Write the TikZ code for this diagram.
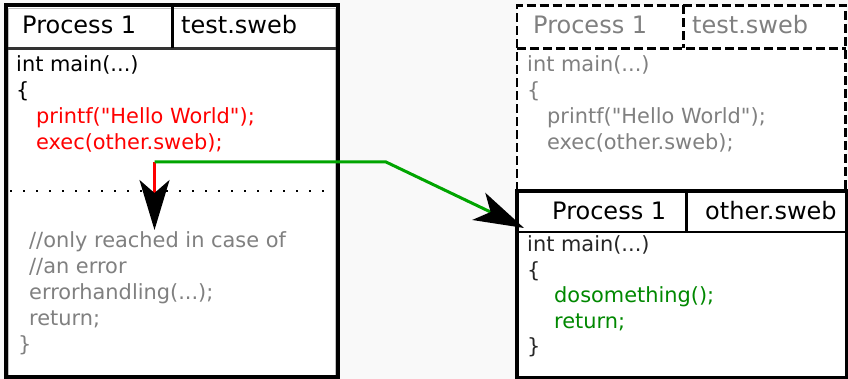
\documentclass[tikz,border=0pt]{standalone}
\usepackage{fontspec}
\setmainfont[Ligatures=TeXReset]{DejaVu Sans}
\usetikzlibrary{arrows.meta,calc,positioning}
\definecolor{bggray}{RGB}{249,249,249}
\definecolor{codegreen}{RGB}{0,136,0}
\definecolor{linegreen}{RGB}{0,165,0}
\newcommand{\dq}{\symbol{34}}

\begin{document}
\begin{tikzpicture}[x=1pt,y=1pt,
	hd/.style={anchor=base west,inner sep=0pt,font=\fontsize{24}{28}\selectfont},
	code/.style={anchor=base west,inner sep=0pt,font=\fontsize{20.9}{26}\selectfont},
	frame/.style={line width=4pt},
	dframe/.style={line width=2.5pt,dash pattern=on 9pt off 4pt},
	sep/.style={line width=2.5pt},
	ghost/.style={black!50},
	dots/.style={line width=2pt,dash pattern=on 2pt off 11pt},
	dart/.tip={Stealth[length=50pt,width=30pt,inset=13pt,color=black]}]
	\useasboundingbox (0,0) rectangle (848,379);
	\fill[bggray] (0,0) rectangle (848,379);
	% running process
	\fill[white] (5.5,1.5) rectangle (337.5,373.5);
	\draw[black!25,line width=0.8pt] (8,4) rectangle (335,371);
	\draw[sep,black!80] (7,330.5) -- (336,330.5);
	\draw[line width=3pt] (172.5,372) -- (172.5,330.5);
	\draw[dots] (10,188) -- (333,188);
	\draw[frame] (5.5,1.5) rectangle (337.5,373.5);
	\node[hd] (l_0) at (22,345) {Process 1};
	\node[hd] (l_1) at (181,345) {test.sweb};
	\node[code] (lc_0) at (16,307) {int main(...)};
	\node[code] (lc_1) at (16,281) {\{};
	\node[code,red] (lc_2) at (36,255) {printf(\dq Hello World\dq);};
	\node[code,red] (lc_3) at (36,229) {exec(other.sweb);};
	\node[code,ghost] (lc_4) at (29,131) {//only reached in case of};
	\node[code,ghost] (lc_5) at (29,105) {//an error};
	\node[code,ghost] (lc_6) at (29,79) {errorhandling(...);};
	\node[code,ghost] (lc_7) at (29,53) {return;};
	\node[code,ghost] (lc_8) at (18,27) {\}};
	% old image
	\fill[white] (517,188) rectangle (845.5,373.5);
	\draw[dframe] (517,330.5) -- (845.5,330.5);
	\draw[dframe] (683.5,373.5) -- (683.5,330.5);
	\draw[dframe] (517,188) -- (517,373.5) -- (845.5,373.5) -- (845.5,188);
	\node[hd,ghost] (r_0) at (533,345) {Process 1};
	\node[hd,ghost] (r_1) at (692,345) {test.sweb};
	\node[code,ghost] (rc_0) at (527,307) {int main(...)};
	\node[code,ghost] (rc_1) at (527,281) {\{};
	\node[code,ghost] (rc_2) at (547,255) {printf(\dq Hello World\dq);};
	\node[code,ghost] (rc_3) at (547,229) {exec(other.sweb);};
	% new image
	\fill[white] (517,1) rectangle (846.5,188);
	\draw[sep] (517,147) -- (846.5,147);
	\draw[line width=3pt] (686.5,188) -- (686.5,147);
	\draw[line width=3.5pt] (517,1) rectangle (846.5,188);
	\node[hd] (n_0) at (552,159) {Process 1};
	\node[hd] (n_1) at (705,159) {other.sweb};
	\node[code,black!85] (nc_0) at (527,127) {int main(...)};
	\node[code,black!85] (nc_1) at (527,101) {\{};
	\node[code,codegreen] (nc_2) at (554,76) {dosomething();};
	\node[code,codegreen] (nc_3) at (554,50) {return;};
	\node[code,black!85] (nc_4) at (527,25) {\}};
	% control flow
	\coordinate (fork) at (154.5,217);
	\coordinate (bend) at (386,217);
	\coordinate (fall) at (154.5,149);
	\coordinate (land) at (524,151);
	\draw[red,line width=2.5pt,-dart] (fork) -- (fall);
	\draw[linegreen,line width=3pt,-dart] (fork) -- (bend) -- (land);
\end{tikzpicture}
\end{document}
